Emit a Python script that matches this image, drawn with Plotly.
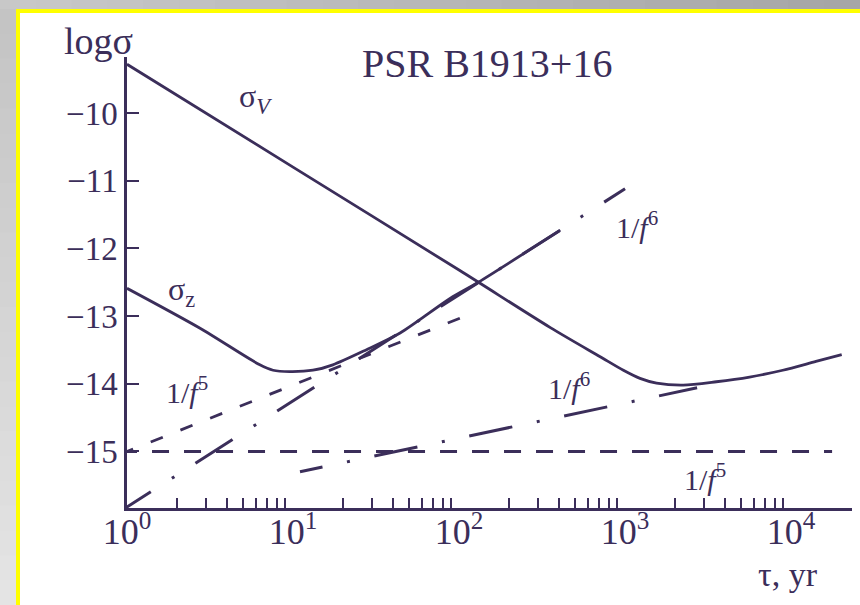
import plotly.graph_objects as go

# ---------------- data (log10 tau [yr], log10 sigma) ----------------
sigma_v_logtau = [0.0, 1.0, 2.0, 2.55, 2.85, 2.99, 3.09, 3.19, 3.35, 3.55, 3.75, 3.95, 4.15, 4.305]
sigma_v_logsig = [-9.28, -10.80, -12.32, -13.17, -13.60, -13.80, -13.92, -13.99, -14.02, -13.97, -13.90, -13.80, -13.67, -13.57]

sigma_z_logtau = [0.0, 0.44, 0.80, 0.88, 0.98, 1.12, 1.24, 1.44, 1.645, 1.946, 2.116, 2.61]
sigma_z_logsig = [-12.59, -13.18, -13.72, -13.80, -13.82, -13.80, -13.72, -13.50, -13.25, -12.74, -12.50, -11.73]

f6_steep_logtau = [-0.08, 3.0]
f6_steep_logsig = [-15.945, -11.12]

f6_shallow_logtau = [1.042, 3.434]
f6_shallow_logsig = [-15.30, -14.06]

f5_steep_logtau = [-0.036, 2.006]
f5_steep_logsig = [-15.036, -13.03]

f5_flat_logtau = [-0.042, 4.247]
f5_flat_logsig = [-15.0, -15.0]

x_major_vals = [1, 10, 100, 1000, 10000]
x_major_text = ["10<sup>0</sup>", "10<sup>1</sup>", "10<sup>2</sup>", "10<sup>3</sup>", "10<sup>4</sup>"]
x_minor_vals = [m * 10 ** d for d in range(4) for m in range(2, 10)]
y_tick_vals = [-10, -11, -12, -13, -14, -15]
y_tick_text = ["\u221210", "\u221211", "\u221212", "\u221213", "\u221214", "\u221215"]

# ---------------- styling ----------------
C = "#3b2e5a"
FONT = "Liberation Serif"
W, H = 860, 605
L, R, T, B = 127, 8, 57, 97
PW, PH = W - L - R, H - T - B
XR = [0, 4.367]


def px_x(p):
    return (p - L) / PW


def px_y(p):
    return (H - B - p) / PH


def tx(v):
    return [10 ** a for a in v]


fig = go.Figure()

fig.add_trace(go.Scatter(x=tx(f5_flat_logtau), y=f5_flat_logsig, mode="lines",
                         line=dict(color=C, width=3, dash="17px,15px"), hoverinfo="skip"))
fig.add_trace(go.Scatter(x=tx(f5_steep_logtau), y=f5_steep_logsig, mode="lines",
                         line=dict(color=C, width=2.8, dash="13px,19px"), hoverinfo="skip"))
fig.add_trace(go.Scatter(x=tx(f6_steep_logtau), y=f6_steep_logsig, mode="lines",
                         line=dict(color=C, width=3, dash="44px,25px,3px,25px"), hoverinfo="skip"))
shallow_dash = "23px,25px,3px,25px," + ",".join(["44px,25px,3px,25px"] * 8)
fig.add_trace(go.Scatter(x=tx(f6_shallow_logtau), y=f6_shallow_logsig, mode="lines",
                         line=dict(color=C, width=3, dash=shallow_dash), hoverinfo="skip"))
fig.add_trace(go.Scatter(x=tx(sigma_v_logtau), y=sigma_v_logsig, mode="lines",
                         line=dict(color=C, width=2.8, shape="spline", smoothing=0.8), hoverinfo="skip"))
fig.add_trace(go.Scatter(x=tx(sigma_z_logtau), y=sigma_z_logsig, mode="lines",
                         line=dict(color=C, width=2.8, shape="spline", smoothing=0.8), hoverinfo="skip"))
# invisible carrier trace for the minor-tick overlay axis
fig.add_trace(go.Scatter(x=[1], y=[-15.5], xaxis="x2", mode="markers",
                         marker=dict(opacity=0), hoverinfo="skip"))

# ---------------- frame (gray gradient + yellow border) ----------------
shapes = []
N = 24
for i in range(N):
    a = i / (N - 1)
    g = int(round(200 + (166 - 200) * a))
    shapes.append(dict(type="rect", xref="paper", yref="paper",
                       x0=px_x(i * W / N), x1=px_x((i + 1) * W / N + 1),
                       y0=px_y(0), y1=px_y(9.5), fillcolor=f"rgb({g},{g},{g})",
                       line=dict(width=0), layer="below"))
for i in range(N):
    a = i / (N - 1)
    g = int(round(196 + (228 - 196) * a))
    y0p = 9 + i * (H - 9) / N
    y1p = 9 + (i + 1) * (H - 9) / N + 1
    shapes.append(dict(type="rect", xref="paper", yref="paper",
                       x0=px_x(0), x1=px_x(16.5), y0=px_y(y0p), y1=px_y(y1p),
                       fillcolor=f"rgb({g},{g},{g})", line=dict(width=0), layer="below"))
shapes.append(dict(type="rect", xref="paper", yref="paper", x0=px_x(16), x1=px_x(W + 2),
                   y0=px_y(9), y1=px_y(13), fillcolor="#ffff00", line=dict(width=0), layer="below"))
shapes.append(dict(type="rect", xref="paper", yref="paper", x0=px_x(16), x1=px_x(20),
                   y0=px_y(9), y1=px_y(H + 2), fillcolor="#ffff00", line=dict(width=0), layer="below"))

# ---------------- annotations ----------------
ann = []


def paper_text(text, cx, cy, size):
    ann.append(dict(text=text, xref="paper", yref="paper", x=px_x(cx), y=px_y(cy),
                    xanchor="center", yanchor="middle", showarrow=False,
                    font=dict(family=FONT, size=size, color=C)))


def data_text(text, lx, ly, size):
    ann.append(dict(text=text, xref="x", yref="y", x=lx, y=ly,
                    xanchor="center", yanchor="middle", showarrow=False,
                    font=dict(family=FONT, size=size, color=C)))


paper_text("logσ", 98, 41, 38)
paper_text("PSR B1913+16", 487, 63, 40)
paper_text("τ, yr", 788, 574, 34)
data_text("σ<sub><i>V</i></sub>", 0.771, -9.78, 32)
data_text("σ<sub>z</sub>", 0.33, -12.63, 32)
data_text("1/<i>f</i><sup>5</sup>", 0.36, -14.09, 30)
data_text("1/<i>f</i><sup>6</sup>", 3.07, -11.65, 30)
data_text("1/<i>f</i><sup>6</sup>", 2.66, -14.03, 30)
data_text("1/<i>f</i><sup>5</sup>", 3.48, -15.38, 30)

fig.update_layout(
    width=W, height=H,
    margin=dict(l=L, r=R, t=T, b=B, pad=0),
    paper_bgcolor="white", plot_bgcolor="white",
    showlegend=False,
    shapes=shapes, annotations=ann,
    font=dict(family=FONT, color=C),
    xaxis=dict(type="log", range=XR, showline=True, linecolor=C, linewidth=2.5,
               showgrid=False, zeroline=False,
               tickmode="array", tickvals=x_major_vals, ticktext=x_major_text, ticks="",
               ticklabelstandoff=-10,
               tickfont=dict(family=FONT, size=36, color=C)),
    xaxis2=dict(type="log", range=XR, overlaying="x", anchor="y", side="bottom",
                showline=False, showgrid=False, zeroline=False,
                tickmode="array", tickvals=x_minor_vals, ticks="inside",
                ticklen=10, tickwidth=1.5, tickcolor=C, showticklabels=False),
    yaxis=dict(range=[-15.835, -9.173], showline=True, linecolor=C, linewidth=2.5,
               showgrid=False, zeroline=False,
               tickmode="array", tickvals=y_tick_vals, ticktext=y_tick_text,
               ticks="inside", ticklen=12, tickwidth=2, tickcolor=C,
               tickfont=dict(family=FONT, size=33, color=C)),
)

fig.write_html("out.html")
